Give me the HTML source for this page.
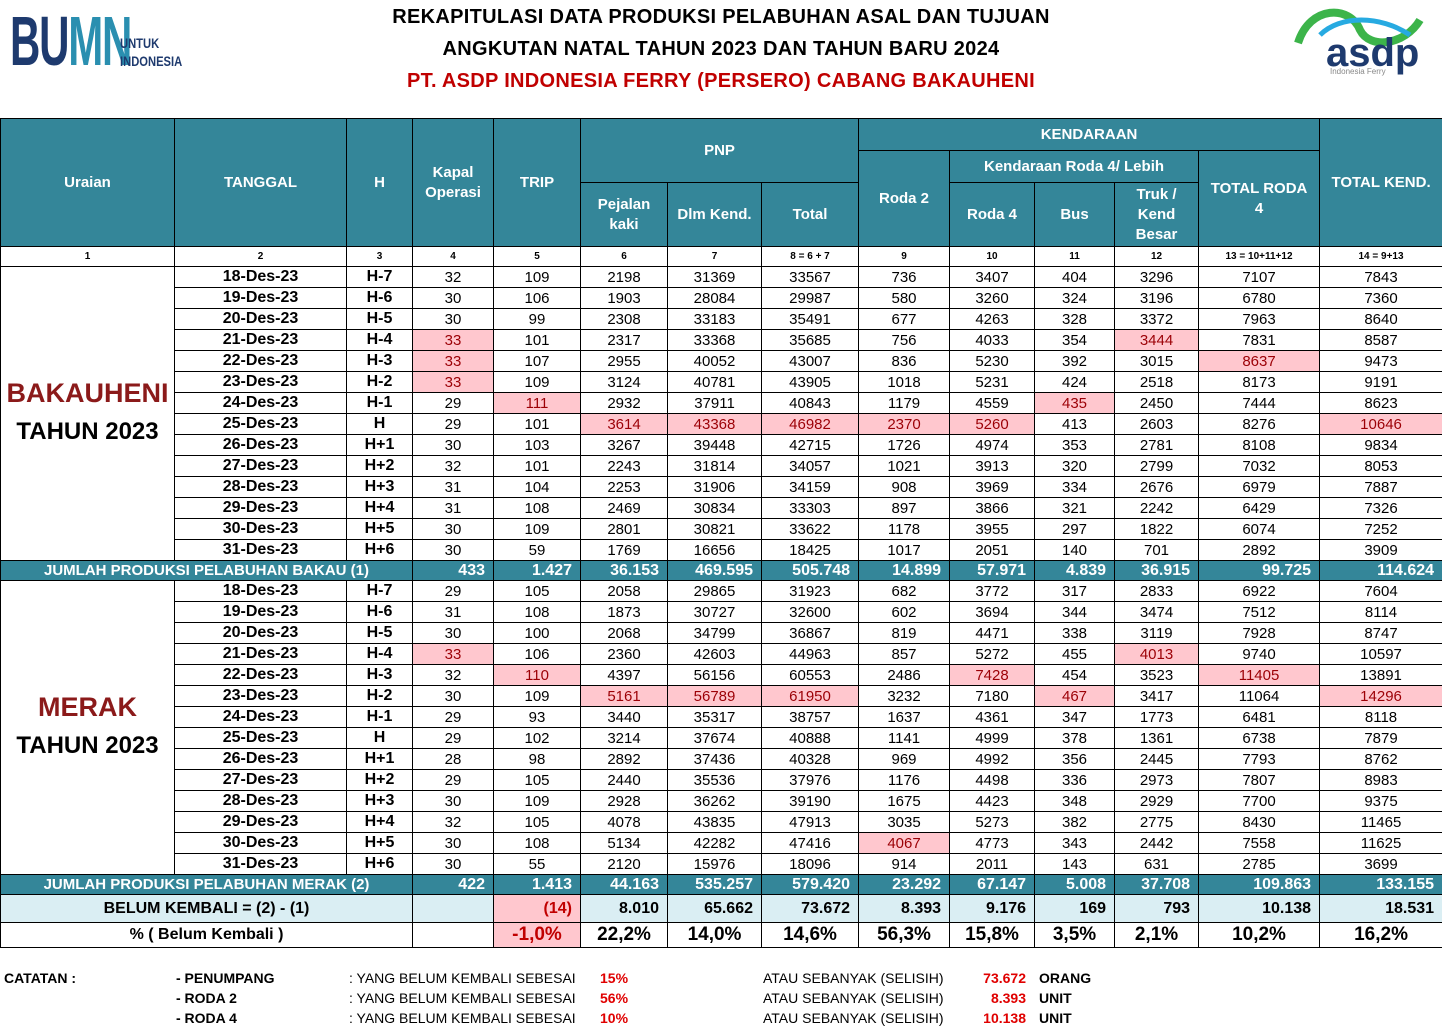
<!DOCTYPE html>
<html><head><meta charset="utf-8">
<style>
body{margin:0;width:1442px;height:1029px;background:#fff;font-family:"Liberation Sans",sans-serif;position:relative;overflow:hidden}
.t1{position:absolute;left:0;width:1442px;text-align:center;font-weight:bold;font-size:20px;letter-spacing:0.3px}
table{position:absolute;left:0;top:118px;border-collapse:collapse;table-layout:fixed;width:1442px}
td{border:1px solid #000;padding:0;text-align:center;font-size:15px;overflow:hidden;white-space:nowrap}
.h{background:#348699;color:#fff;font-weight:bold;font-size:15px;white-space:normal;line-height:20px}
.n{font-size:10px;font-weight:bold;height:19px}
.d td{height:20px}
.b{font-weight:bold}
.pk{background:#ffc7ce;color:#9c0006}
.j td{background:#348699;color:#fff;font-weight:bold;height:19px}
.bk td{background:#daeef3;font-weight:bold;height:27px;font-size:16px}
.pc td{font-weight:bold;height:24px;font-size:19px}
.ur{border-top:1px solid #000;border-bottom:1px solid #000;font-weight:bold;line-height:34px}
.note{position:absolute;font-size:14px;font-weight:bold}
.nr{position:absolute;font-size:14px}
</style></head><body>
<div style="position:absolute;left:10px;top:12px;width:175px;height:64px">
<span style="position:absolute;left:0;top:-6px;font-size:70px;font-weight:bold;color:#1e3a6e;transform:scaleX(0.6);transform-origin:0 0;letter-spacing:-2px;line-height:1">B<span style="color:#1e3a6e">U</span><span style="color:#2a8fb0">MN</span></span>
<span style="position:absolute;left:110px;top:22px;font-size:14px;font-weight:bold;color:#1e3a6e;line-height:18px;transform:scaleX(0.8);transform-origin:0 0">UNTUK<br>INDONESIA</span></div>
<div style="position:absolute;left:1290px;top:5px;width:150px;height:75px">
<svg width="150" height="50"><path d="M8 38 C20 0 60 0 70 25 C80 45 115 40 130 15" fill="none" stroke="#3cb44a" stroke-width="8"/><path d="M30 30 C50 10 90 10 120 30" fill="none" stroke="#27aae1" stroke-width="5"/></svg>
<span style="position:absolute;left:36px;top:26px;font-size:40px;font-weight:bold;color:#1e3a6e">asdp</span>
<span style="position:absolute;left:40px;top:62px;font-size:8px;color:#888">Indonesia Ferry</span></div>
<div class="t1" style="top:6px">REKAPITULASI DATA PRODUKSI PELABUHAN ASAL DAN TUJUAN</div>
<div class="t1" style="top:38px">ANGKUTAN NATAL TAHUN 2023 DAN TAHUN BARU 2024</div>
<div class="t1" style="top:70px;color:#c00000">PT. ASDP INDONESIA FERRY (PERSERO) CABANG BAKAUHENI</div>

<table id="tbl">
<colgroup><col style="width:174px"><col style="width:172px"><col style="width:66px"><col style="width:81px"><col style="width:87px"><col style="width:87px"><col style="width:94px"><col style="width:97px"><col style="width:91px"><col style="width:85px"><col style="width:80px"><col style="width:84px"><col style="width:121px"><col style="width:123px"></colgroup>
<tr style="height:32px">
<td class="h" rowspan="3">Uraian</td>
<td class="h" rowspan="3">TANGGAL</td>
<td class="h" rowspan="3">H</td>
<td class="h" rowspan="3">Kapal<br>Operasi</td>
<td class="h" rowspan="3">TRIP</td>
<td class="h" colspan="3" rowspan="2">PNP</td>
<td class="h" colspan="5">KENDARAAN</td>
<td class="h" rowspan="3">TOTAL KEND.</td></tr>
<tr style="height:32px">
<td class="h" rowspan="2">Roda 2</td>
<td class="h" colspan="3">Kendaraan Roda 4/ Lebih</td>
<td class="h" rowspan="2">TOTAL RODA<br>4</td></tr>
<tr style="height:64px">
<td class="h">Pejalan<br>kaki</td>
<td class="h">Dlm Kend.</td>
<td class="h">Total</td>
<td class="h">Roda 4</td>
<td class="h">Bus</td>
<td class="h">Truk /<br>Kend<br>Besar</td></tr>
<tr id="numrow"></tr>
</table>

<div class="note" style="left:4px;top:970px">CATATAN :</div>
<div class="note" style="left:176px;top:970px">- PENUMPANG</div>
<div class="note" style="left:176px;top:990px">- RODA 2</div>
<div class="note" style="left:176px;top:1010px">- RODA 4</div>
<div class="nr" style="left:349px;top:970px">: YANG BELUM KEMBALI SEBESAI</div>
<div class="nr" style="left:349px;top:990px">: YANG BELUM KEMBALI SEBESAI</div>
<div class="nr" style="left:349px;top:1010px">: YANG BELUM KEMBALI SEBESAI</div>
<div class="note" style="left:600px;top:970px;color:#e00000">15%</div>
<div class="note" style="left:600px;top:990px;color:#e00000">56%</div>
<div class="note" style="left:600px;top:1010px;color:#e00000">10%</div>
<div class="nr" style="left:763px;top:970px">ATAU SEBANYAK (SELISIH)</div>
<div class="nr" style="left:763px;top:990px">ATAU SEBANYAK (SELISIH)</div>
<div class="nr" style="left:763px;top:1010px">ATAU SEBANYAK (SELISIH)</div>
<div class="note" style="left:960px;width:66px;text-align:right;top:970px;color:#e00000">73.672</div>
<div class="note" style="left:960px;width:66px;text-align:right;top:990px;color:#e00000">8.393</div>
<div class="note" style="left:960px;width:66px;text-align:right;top:1010px;color:#e00000">10.138</div>
<div class="note" style="left:1039px;top:970px">ORANG</div>
<div class="note" style="left:1039px;top:990px">UNIT</div>
<div class="note" style="left:1039px;top:1010px">UNIT</div>

<script>
const colNumbers=["1","2","3","4","5","6","7","8 = 6 + 7","9","10","11","12","13 = 10+11+12","14 = 9+13"];
const dates=["18-Des-23","19-Des-23","20-Des-23","21-Des-23","22-Des-23","23-Des-23","24-Des-23","25-Des-23","26-Des-23","27-Des-23","28-Des-23","29-Des-23","30-Des-23","31-Des-23"];
const hDays=["H-7","H-6","H-5","H-4","H-3","H-2","H-1","H","H+1","H+2","H+3","H+4","H+5","H+6"];
const bakRows=[
[32,109,2198,31369,33567,736,3407,404,3296,7107,7843],
[30,106,1903,28084,29987,580,3260,324,3196,6780,7360],
[30,99,2308,33183,35491,677,4263,328,3372,7963,8640],
[33,101,2317,33368,35685,756,4033,354,3444,7831,8587],
[33,107,2955,40052,43007,836,5230,392,3015,8637,9473],
[33,109,3124,40781,43905,1018,5231,424,2518,8173,9191],
[29,111,2932,37911,40843,1179,4559,435,2450,7444,8623],
[29,101,3614,43368,46982,2370,5260,413,2603,8276,10646],
[30,103,3267,39448,42715,1726,4974,353,2781,8108,9834],
[32,101,2243,31814,34057,1021,3913,320,2799,7032,8053],
[31,104,2253,31906,34159,908,3969,334,2676,6979,7887],
[31,108,2469,30834,33303,897,3866,321,2242,6429,7326],
[30,109,2801,30821,33622,1178,3955,297,1822,6074,7252],
[30,59,1769,16656,18425,1017,2051,140,701,2892,3909]];
const bakTotals=["433","1.427","36.153","469.595","505.748","14.899","57.971","4.839","36.915","99.725","114.624"];
const bakHighlights=[[3,0],[3,8],[4,0],[4,9],[5,0],[6,1],[6,7],[7,2],[7,3],[7,4],[7,5],[7,6],[7,10]];
const merRows=[
[29,105,2058,29865,31923,682,3772,317,2833,6922,7604],
[31,108,1873,30727,32600,602,3694,344,3474,7512,8114],
[30,100,2068,34799,36867,819,4471,338,3119,7928,8747],
[33,106,2360,42603,44963,857,5272,455,4013,9740,10597],
[32,110,4397,56156,60553,2486,7428,454,3523,11405,13891],
[30,109,5161,56789,61950,3232,7180,467,3417,11064,14296],
[29,93,3440,35317,38757,1637,4361,347,1773,6481,8118],
[29,102,3214,37674,40888,1141,4999,378,1361,6738,7879],
[28,98,2892,37436,40328,969,4992,356,2445,7793,8762],
[29,105,2440,35536,37976,1176,4498,336,2973,7807,8983],
[30,109,2928,36262,39190,1675,4423,348,2929,7700,9375],
[32,105,4078,43835,47913,3035,5273,382,2775,8430,11465],
[30,108,5134,42282,47416,4067,4773,343,2442,7558,11625],
[30,55,2120,15976,18096,914,2011,143,631,2785,3699]];
const merTotals=["422","1.413","44.163","535.257","579.420","23.292","67.147","5.008","37.708","109.863","133.155"];
const merHighlights=[[3,0],[3,8],[4,1],[4,6],[4,9],[5,2],[5,3],[5,4],[5,7],[5,10],[12,5]];
const belumValues=["","(14)","8.010","65.662","73.672","8.393","9.176","169","793","10.138","18.531"];
const pctValues=["","-1,0%","22,2%","14,0%","14,6%","56,3%","15,8%","3,5%","2,1%","10,2%","16,2%"];

const tbl=document.getElementById('tbl');
const nr=document.getElementById('numrow');
colNumbers.forEach((c,i)=>{const td=document.createElement('td');td.className='n';td.textContent=c;


nr.appendChild(td);});

function section(rows,hl,place,totLabel,totals,key){
  rows.forEach((r,i)=>{
    const tr=document.createElement('tr');tr.className='d';
    
    
    if(i===0){const td=document.createElement('td');td.rowSpan=rows.length;td.className='ur';
      td.innerHTML='<span style="color:#8b1a1a;font-size:27px">'+place+'</span><br><span style="font-size:24px">TAHUN 2023</span>';
      
      
      tr.appendChild(td);}
    [dates[i],hDays[i]].forEach((v,k)=>{const td=document.createElement('td');td.className='b';td.textContent=v;td.style.fontSize='16px';
      
      
      tr.appendChild(td);});
    r.forEach((v,j)=>{const td=document.createElement('td');td.textContent=v;
      if(hl.some(h=>h[0]===i&&h[1]===j))td.className='pk';
      
      
      tr.appendChild(td);});
    tbl.appendChild(tr);
  });
  const tr=document.createElement('tr');tr.className='j';
  
  
  const td=document.createElement('td');td.colSpan=3;td.textContent=totLabel;td.style.fontSize='15px';
  
  
  tr.appendChild(td);
  totals.forEach(v=>{const c=document.createElement('td');c.textContent=v;c.style.textAlign='right';c.style.paddingRight='8px';c.style.fontSize='16px';
    
    
    tr.appendChild(c);});
  tbl.appendChild(tr);
}
section(bakRows,bakHighlights,'BAKAUHENI','JUMLAH PRODUKSI PELABUHAN BAKAU (1)',bakTotals,'bakauheni');
section(merRows,merHighlights,'MERAK','JUMLAH PRODUKSI PELABUHAN MERAK (2)',merTotals,'merak');

function summary(cls,label,vals,key){
  const tr=document.createElement('tr');tr.className=cls;
  
  
  const td=document.createElement('td');td.colSpan=3;td.textContent=label;td.style.fontSize='16px';
  
  
  tr.appendChild(td);
  vals.forEach((v,j)=>{const c=document.createElement('td');c.textContent=v;
    if(cls==='bk'){c.style.textAlign='right';c.style.paddingRight='8px';}
    if(j===1){c.style.background='#ffc7ce';c.style.color='#c00000';}
    
    
    tr.appendChild(c);});
  tbl.appendChild(tr);
}
summary('bk','BELUM KEMBALI = (2) - (1)',belumValues,'belum-kembali');
summary('pc','% ( Belum Kembali )',pctValues,'percent-belum-kembali');
document.querySelector('.pc td').style.fontSize='16px';
</script>
</body></html>
